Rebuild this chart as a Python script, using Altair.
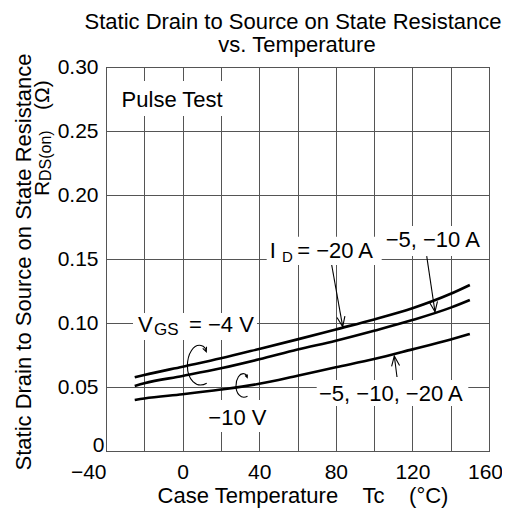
import altair as alt
import pandas as pd

FONT = "Liberation Sans"

# ---------------- data ----------------
temps = [-25, -20, 0, 20, 40, 60, 80, 100, 120, 140, 150]
r_vgs4_id20 = [0.0576, 0.0594, 0.0659, 0.0724, 0.0797, 0.0872, 0.0950, 0.1028, 0.1115, 0.1228, 0.1297]
r_vgs4_id5_10 = [0.0508, 0.0529, 0.0586, 0.0646, 0.0716, 0.0793, 0.0862, 0.0940, 0.1023, 0.1120, 0.1180]
r_vgs10_all = [0.0398, 0.0410, 0.0443, 0.0480, 0.0525, 0.0588, 0.0654, 0.0718, 0.0794, 0.0872, 0.0914]

x_ticks = [-40, -20, 0, 20, 40, 60, 80, 100, 120, 140, 160]
y_ticks = [0, 0.05, 0.10, 0.15, 0.20, 0.25, 0.30]

# annotation labels (data coordinates of their left/baseline anchor)
ann_text = ["Pulse Test", "V", "GS", "= \u22124 V", "I", "D", "= \u221220 A",
            "\u22125, \u221210 A", "\u22125, \u221210, \u221220 A", "\u221210 V"]
ann_x = [-31.85, -23.29, -14.93, 3.34, 45.48, 51.91, 59.84, 106.06, 71.23, 13.42]
ann_y = [0.269, 0.0932, 0.0906, 0.0932, 0.1505, 0.1479, 0.1505, 0.1596, 0.0391, 0.0203]
ann_fs = [22, 22, 17, 22, 22, 15, 22, 22, 22, 22]

# white label backgrounds (break the grid like the original)
box_x1 = [-33.73, -25.9, 43.92, 104.65, 70.03, 10.65]
box_x2 = [24.23, 38.85, 103.97, 158.43, 149.19, 46.68]
box_y1 = [0.289, 0.1078, 0.1674, 0.1758, 0.0555, 0.0398]
box_y2 = [0.2617, 0.0867, 0.1453, 0.1523, 0.0352, 0.0148]

# leader arrows: tail -> tip
arr_x1 = [77.86, 127.47, 111.96]
arr_y1 = [0.1453, 0.1523, 0.0578]
arr_x2 = [83.6, 131.8, 110.55]
arr_y2 = [0.0971, 0.1088, 0.0742]
arr_ang = [80, 81.5, 262.7]

# curled arrows (V_GS markers)
curl_x = [9.09, 31.8]
curl_y = [0.0664, 0.0508]
curl_size = [1764, 625]

# ---------------- tables ----------------
curves = pd.DataFrame({
    "T": temps * 3,
    "R": r_vgs4_id20 + r_vgs4_id5_10 + r_vgs10_all,
    "series": ["VGS=-4V, ID=-20A"] * len(temps) + ["VGS=-4V, ID=-5,-10A"] * len(temps)
              + ["VGS=-10V"] * len(temps),
})
ann = pd.DataFrame({"label": ann_text, "T": ann_x, "R": ann_y, "fs": ann_fs})
boxes = pd.DataFrame({"T": box_x1, "T2": box_x2, "R": box_y1, "R2": box_y2})
arrows = pd.DataFrame({"T": arr_x1, "R": arr_y1, "T2": arr_x2, "R2": arr_y2, "ang": arr_ang})
curls = pd.DataFrame({"T": curl_x, "R": curl_y, "sz": curl_size})

titles = pd.DataFrame({
    "label": ["Static Drain to Source on State Resistance", "vs. Temperature"],
    "px": [187, 191], "py": [-38, -15], "fs": [22, 22],
})
ylab2 = pd.DataFrame({
    "label": ["R", "DS(on)", "(\u03a9)"],
    "px": [-57, -55, -57], "py": [129, 114, 43], "fs": [21, 16, 21],
})

xs = alt.Scale(domain=[-40, 160], nice=False, zero=False)
ys = alt.Scale(domain=[0, 0.30], nice=False, zero=False)

x_axis = alt.Axis(
    values=x_ticks, grid=True, gridColor="#555555", gridWidth=1, ticks=False, tickSize=0,
    domain=False, labelExpr="datum.value % 40 == 0 ? format(datum.value, 'd') : ''",
    labelFont=FONT, labelFontSize=21, labelColor="black", labelPadding=10,
    labelFlush=False, labelOverlap=False, labelBound=False,
    labelAlign={"condition": {"test": "datum.value == -40", "value": "right"}, "value": "center"},
    labelOffset={"condition": {"test": "datum.value == 160", "value": -4}, "value": 0},
    title="Case Temperature\u00a0\u00a0\u00a0\u00a0Tc\u00a0\u00a0\u00a0\u00a0(\u00b0C)",
    titleFont=FONT, titleFontSize=22, titleFontWeight="normal", titleColor="black",
    titleX=196.5, titleY=51, titleAlign="center", titleBaseline="alphabetic",
)
y_axis = alt.Axis(
    values=y_ticks, grid=True, gridColor="#555555", gridWidth=1, ticks=False, tickSize=0,
    domain=False, labelExpr="datum.value == 0 ? '0' : format(datum.value, '.2f')",
    labelFont=FONT, labelFontSize=21, labelColor="black", labelPadding=8,
    labelFlush=False, labelOverlap=False, labelBound=False,
    labelAlign={"condition": {"test": "datum.value == 0", "value": "center"}, "value": "right"},
    labelBaseline={"condition": {"test": "datum.value == 0", "value": "alphabetic"}, "value": "middle"},
    title="Static Drain to Source on State Resistance",
    titleFont=FONT, titleFontSize=22, titleFontWeight="normal", titleColor="black",
    titleX=-75.5, titleY=194.5, titleAngle=270, titleAlign="center", titleBaseline="alphabetic",
)


def X(field):
    return alt.X(field, scale=xs, axis=x_axis)


def Y(field):
    return alt.Y(field, scale=ys, axis=y_axis)


box_layer = alt.Chart(boxes).mark_rect(color="white", opacity=1).encode(
    x=X("T:Q"), x2="T2:Q", y=Y("R:Q"), y2="R2:Q",
)

line_layer = alt.Chart(curves).mark_line(
    color="black", strokeWidth=2.6, interpolate="monotone"
).encode(
    x=X("T:Q"), y=Y("R:Q"), detail="series:N", order="T:Q",
)

shaft_layer = alt.Chart(arrows).mark_rule(color="black", strokeWidth=1.1).encode(
    x=X("T:Q"), y=Y("R:Q"), x2="T2:Q", y2="R2:Q",
)

head_layer = alt.Chart(arrows).mark_point(
    shape="M-1,-0.4L0,0L-1,0.4", filled=False, color="black", strokeWidth=1.1,
    opacity=1, size=400,
).encode(
    x=X("T2:Q"), y=Y("R2:Q"), angle=alt.Angle("ang:Q", scale=None),
)

curl_path = ("M0.32,0.82 C-0.2,1.1 -0.6,0.6 -0.6,0 C-0.6,-0.6 -0.3,-1.05 0.05,-0.98 "
             "C0.2,-0.95 0.28,-0.85 0.3,-0.68 M0.31,-0.92 L0.3,-0.68 L0.13,-0.84")
curl_layer = alt.Chart(curls).mark_point(
    shape=curl_path, filled=False, color="black", strokeWidth=1.1, opacity=1,
).encode(
    x=X("T:Q"), y=Y("R:Q"), size=alt.Size("sz:Q", scale=None),
)

text_layer = alt.Chart(ann).mark_text(
    align="left", baseline="alphabetic", font=FONT, color="black",
).encode(
    x=X("T:Q"), y=Y("R:Q"), text="label:N", size=alt.Size("fs:Q", scale=None),
)

title_layer = alt.Chart(titles).mark_text(
    align="center", baseline="alphabetic", font=FONT, color="black",
).encode(
    x=alt.X("px:Q", scale=None), y=alt.Y("py:Q", scale=None),
    text="label:N", size=alt.Size("fs:Q", scale=None),
)

ylab2_layer = alt.Chart(ylab2).mark_text(
    align="left", baseline="alphabetic", font=FONT, color="black", angle=270,
).encode(
    x=alt.X("px:Q", scale=None), y=alt.Y("py:Q", scale=None),
    text="label:N", size=alt.Size("fs:Q", scale=None),
)

chart = alt.layer(
    box_layer, line_layer, shaft_layer, head_layer, curl_layer,
    text_layer, title_layer, ylab2_layer,
).properties(
    width=383, height=384,
    autosize=alt.AutoSizeParams(type="none"),
    padding={"left": 98, "top": 59, "right": 13, "bottom": 57},
    background="white",
).configure_view(stroke="black", strokeWidth=1)

chart.save("out.html", embed_options={"renderer": "svg", "actions": False})
